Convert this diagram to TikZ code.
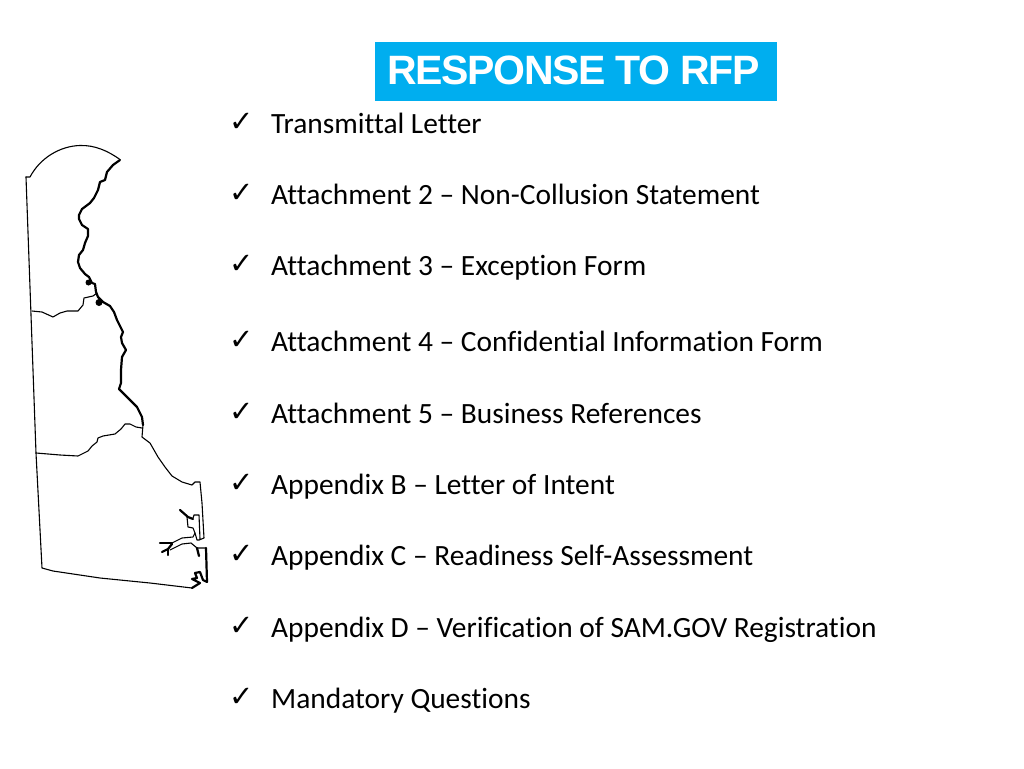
\documentclass[tikz,border=0pt]{standalone}
\usepackage{fontspec}
\setmainfont[Ligatures=CommonOff]{Carlito}
\newfontfamily\headfont[LetterSpace=-3.3]{Liberation Sans}
\newfontfamily\tickfont{DejaVu Sans}
\definecolor{headblue}{HTML}{00AEEF}
\tikzset{
  itemtext/.style={anchor=base west,inner sep=0pt,font=\fontsize{29.4}{32}\selectfont,text=black},
  ticktext/.style={anchor=base west,inner sep=0pt,font=\tickfont\fontsize{29}{30}\selectfont,text=black},
  headbox/.style={fill=headblue,draw=none,minimum width=402pt,minimum height=59pt,inner sep=0pt},
  headtext/.style={anchor=base west,inner sep=0pt,text=white,font=\headfont\bfseries\fontsize{41}{44}\selectfont},
  mapline/.style={draw=black,line width=1.1pt,line join=round,line cap=round},
  mapriver/.style={draw=black,line width=2.2pt,line join=round,line cap=round},
}
\begin{document}
\begin{tikzpicture}[x=1pt,y=-1pt]
\useasboundingbox (0,0) rectangle (1024,768);
\node[headbox] (head) at (576,71.5) {};
\node[headtext] (title) at (387,84) {RESPONSE TO RFP};
\foreach \n/\yy/\t in {a/133/Transmittal Letter,
  b/204/Attachment 2 – Non-Collusion Statement,
  c/275/Attachment 3 – Exception Form,
  d/351/Attachment 4 – Confidential Information Form,
  e/423/Attachment 5 – Business References,
  f/494/Appendix B – Letter of Intent,
  g/565/Appendix C – Readiness Self-Assessment,
  h/637/Appendix D – Verification of SAM.GOV Registration,
  i/708/Mandatory Questions}{
  \node[ticktext] (tick\n) at (229.5,\yy-2) {✓};
  \node[itemtext] (item\n) at (271,\yy) {\t};
}
% map outline
\draw[mapline] (26,177) -- (30,177) .. controls (40,158) and (60,146) .. (80,145.5) .. controls (95,145) and (108,151) .. (120,159.5);
\draw[mapline] (26,177) -- (33,370) -- (36,453) -- (42,568) -- (53,571) -- (100,578) -- (150,583) -- (192,588);
\draw[mapriver] (120,160) -- (113,165) -- (107,172) -- (105,180) -- (100,182) -- (98,190) -- (94,198) -- (90,203) -- (82,209) -- (79,215) -- (79,219) -- (82,225) -- (88,229) -- (88,236) -- (85,243) -- (83,250) -- (79,255) -- (78,262) -- (80,268) -- (85,274) -- (89,277) -- (92,283) -- (95,284) -- (96,292) -- (98,297) -- (103,302) -- (110,306) -- (114,312) -- (117,320) -- (123,332) -- (121,337) -- (122,343) -- (126,350) -- (122,357) -- (121,370) -- (121,383) -- (119,389) -- (128,398) -- (137,407) -- (142,417) -- (143,425);
\draw[mapline] (143,425) -- (142,437) -- (150,443) -- (158,457) -- (165,467) -- (172,476) -- (182,482) -- (192,485) -- (195,482) -- (200,482) -- (202,503) -- (204,538) -- (199,540) -- (197,540) -- (195,533) -- (193,528) -- (188,527) -- (187,517);
\draw[mapline] (193,518) -- (194,515) -- (199,515) -- (200,539);
\draw[mapriver] (180,510) -- (188,517) -- (193,519);
\fill (88.5,282.5) circle (3pt);
\fill (99,302.5) circle (3.5pt);
% south-east inlets
\draw[mapriver] (160,543) -- (172,543);
\draw[mapline] (172,543) -- (182,538) -- (193,537) -- (195,533);
\draw[mapriver] (162,552) -- (168,549) -- (172,544);
\draw[mapriver] (168,549) -- (168,555);
\draw[mapline] (170,550) -- (182,544) -- (191,543) -- (197,548) -- (206,548);
\draw[mapriver] (206,548) -- (207,582) -- (203,580);
\draw[mapriver] (203,580) -- (200,572) -- (195,573) -- (197,578) -- (192,579) -- (200,583) -- (192,588);
\draw[mapriver] (197,548) -- (199,556);
% county lines
\draw[mapline] (32,311) -- (42,312) -- (53,317) -- (60,313) -- (67,311) -- (78,311) -- (83,305) -- (84,298) -- (93,296) -- (97,293);
\draw[mapline] (36,453) -- (60,455) -- (78,456) -- (88,451) -- (92,446) -- (97,442) -- (98,438) -- (103,436) -- (115,434) -- (121,429) -- (125,424) -- (130,424) -- (136,427) -- (142,428);
\end{tikzpicture}
\end{document}
